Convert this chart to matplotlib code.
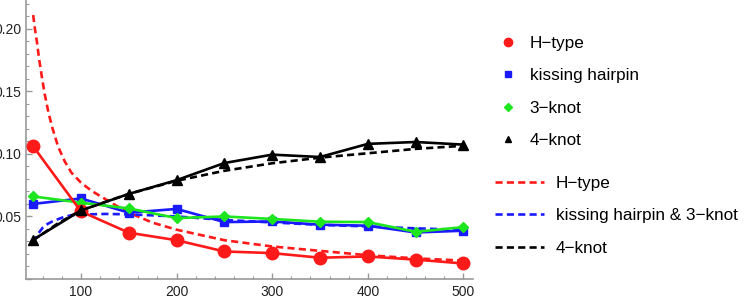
import matplotlib
matplotlib.use("Agg")
from matplotlib import pyplot as plt
from matplotlib.lines import Line2D
from matplotlib.ticker import MultipleLocator

plt.rcParams['font.family'] = ['Liberation Sans', 'DejaVu Sans']
plt.rcParams['font.size'] = 10

# measured points
n = [50, 100, 150, 200, 250, 300, 350, 400, 450, 500]
htype = [0.106, 0.054, 0.037, 0.031, 0.022, 0.0207, 0.017, 0.018, 0.0155, 0.0124]
kissing = [0.060, 0.0644, 0.053, 0.056, 0.0455, 0.046, 0.0434, 0.0426, 0.0372, 0.0386]
knot3 = [0.066, 0.061, 0.0564, 0.0487, 0.050, 0.048, 0.0458, 0.0455, 0.0377, 0.0415]
knot4 = [0.0314, 0.0548, 0.068, 0.079, 0.0927, 0.0994, 0.0975, 0.108, 0.1095, 0.1074]

# fitted curves
fit_h_x = [50, 52, 54, 56, 59, 62, 66, 70, 76, 83, 90, 100, 111, 123, 135, 150, 175, 200, 250, 300, 350, 400, 450, 500]
fit_h_y = [0.211, 0.199, 0.189, 0.177, 0.162, 0.148, 0.133, 0.121, 0.106, 0.094, 0.085, 0.077, 0.0705, 0.065, 0.0595, 0.053, 0.045, 0.0394, 0.031, 0.026, 0.0225, 0.019, 0.0165, 0.0147]
fit_k_x = [50, 55, 60, 65, 70, 80, 90, 100, 125, 150, 200, 250, 300, 350, 400, 450, 500]
fit_k_y = [0.029, 0.036, 0.041, 0.044, 0.046, 0.049, 0.051, 0.0515, 0.052, 0.0517, 0.050, 0.0472, 0.0452, 0.0433, 0.042, 0.0405, 0.0393]
fit_4_x = [50, 75, 100, 150, 200, 250, 300, 350, 400, 450, 500]
fit_4_y = [0.031, 0.044, 0.055, 0.068, 0.0785, 0.0865, 0.0925, 0.097, 0.1005, 0.104, 0.1065]

RED, BLUE, GREEN = '#ff1a1a', '#1a1aff', '#1ee61e'
LW = 1.9
dash = (0, (2.7, 1.6))

fig = plt.figure(figsize=(7.47, 2.99), dpi=100)
ax = fig.add_axes([26 / 747, 20 / 299, 447 / 747, 279 / 299])

ax.plot(fit_h_x, fit_h_y, color=RED, lw=LW, linestyle=dash, zorder=2)
ax.plot(fit_k_x, fit_k_y, color=BLUE, lw=LW, linestyle=dash, zorder=2)
ax.plot(fit_4_x, fit_4_y, color='black', lw=LW, linestyle=dash, zorder=2)

ax.plot(n, kissing, color=BLUE, lw=LW, marker='s', ms=6, zorder=3)
ax.plot(n, knot3, color=GREEN, lw=LW, marker='D', ms=5.5, zorder=3)
ax.plot(n, htype, color=RED, lw=LW, marker='o', ms=9, zorder=3)
ax.plot(n, knot4, color='black', lw=LW, marker='^', ms=6.5, zorder=4)

ax.set_xlim(42.5, 510)
ax.set_ylim(0, 0.223)
ax.xaxis.set_major_locator(MultipleLocator(100))
ax.xaxis.set_minor_locator(MultipleLocator(20))
ax.yaxis.set_major_locator(MultipleLocator(0.05))
ax.yaxis.set_minor_locator(MultipleLocator(0.01))
ax.yaxis.set_major_formatter(lambda v, p: f"{v:.2f}" if v > 0.001 else "")

for s in ['top', 'right']:
    ax.spines[s].set_visible(False)
for s in ['left', 'bottom']:
    ax.spines[s].set_color('#999999')
    ax.spines[s].set_linewidth(1.2)
ax.tick_params(which='major', direction='in', length=4, width=1, color='#999999', pad=4, labelcolor='#222222')
ax.tick_params(which='minor', direction='in', length=2.5, width=0.8, color='#999999')
ax.tick_params(axis='y', which='major', pad=3)

marker_handles = [
    Line2D([], [], color=RED, marker='o', ms=6, linestyle='none'),
    Line2D([], [], color=BLUE, marker='s', ms=4, linestyle='none'),
    Line2D([], [], color=GREEN, marker='D', ms=4, linestyle='none'),
    Line2D([], [], color='black', marker='^', ms=4.5, linestyle='none'),
]
marker_labels = ['H\u2212type', 'kissing hairpin', '3\u2212knot', '4\u2212knot']
fig.legend(marker_handles, marker_labels, loc='upper left',
           bbox_to_anchor=(499 / 747, 1 - 36 / 299), frameon=False,
           borderpad=0, borderaxespad=0, handlelength=1.0, handletextpad=0.8,
           labelspacing=1.02, fontsize=12.3)

line_handles = [
    Line2D([], [], color=RED, lw=LW, linestyle=dash),
    Line2D([], [], color=BLUE, lw=LW, linestyle=dash),
    Line2D([], [], color='black', lw=LW, linestyle=dash),
]
line_labels = ['H\u2212type', 'kissing hairpin & 3\u2212knot', '4\u2212knot']
fig.legend(line_handles, line_labels, loc='upper left',
           bbox_to_anchor=(495 / 747, 1 - 176 / 299), frameon=False,
           borderpad=0, borderaxespad=0, handlelength=2.85, handletextpad=0.7,
           labelspacing=1.02, fontsize=12.3)

fig.savefig('out.png', dpi=100)
